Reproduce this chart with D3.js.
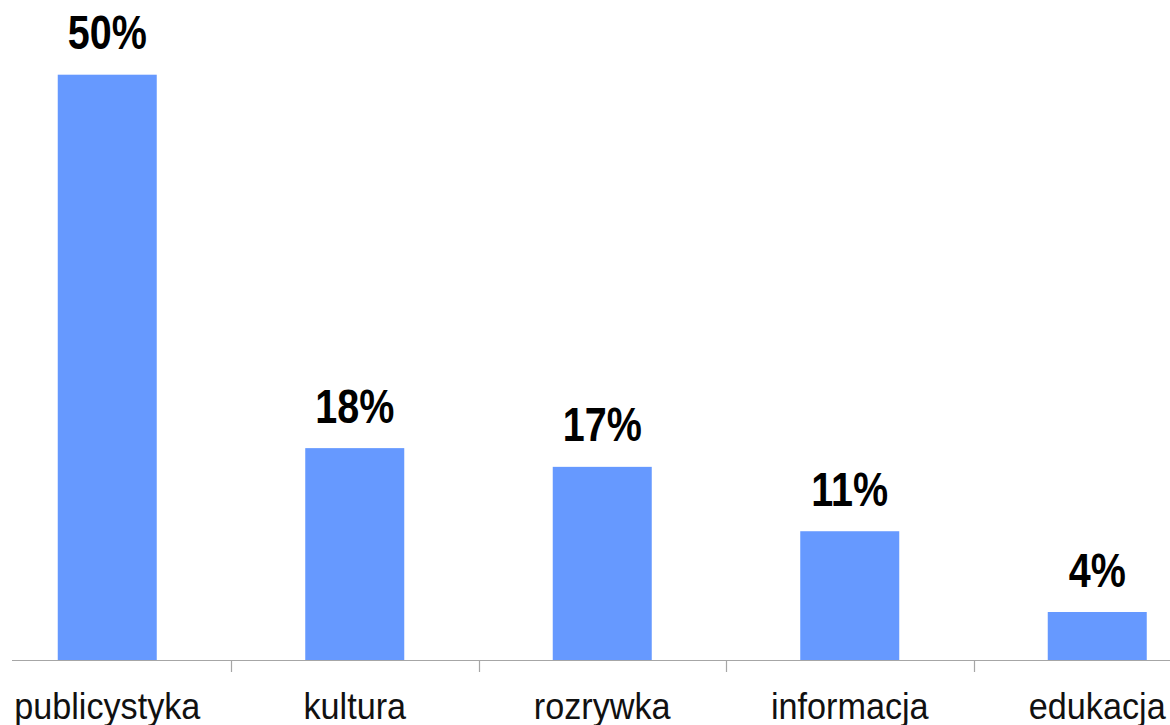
<!DOCTYPE html>
<html>
<head>
<meta charset="utf-8">
<script src="https://cdn.jsdelivr.net/npm/d3@7/dist/d3.min.js"></script>
<style>
html, body { margin: 0; padding: 0; background: #fff; overflow: hidden; }
svg { display: block; }
</style>
</head>
<body>
<svg id="chart" width="1170" height="725"></svg>
<script>
const categories = ["publicystyka", "kultura", "rozrywka", "informacja", "edukacja"];
const values = [50, 18.1, 16.5, 11.0, 4.1];
const valueLabels = ["50%", "18%", "17%", "11%", "4%"];

const svg = d3.select("#chart");
const baseY = 660;

const x = d3.scaleBand()
  .domain(categories)
  .range([-16.5, 1221])
  .paddingInner(0.6)
  .paddingOuter(0.3);

const y = d3.scaleLinear().domain([0, 50]).range([baseY, 74.7]);

const step = x.step();

// bars
svg.selectAll("rect.bar")
  .data(categories)
  .join("rect")
  .attr("class", "bar")
  .attr("x", d => x(d))
  .attr("y", (d, i) => y(values[i]))
  .attr("width", x.bandwidth())
  .attr("height", (d, i) => baseY - y(values[i]))
  .attr("fill", "#6699FF");

// axis line
svg.append("line")
  .attr("x1", 12).attr("x2", 1170)
  .attr("y1", baseY + 0.5).attr("y2", baseY + 0.5)
  .attr("stroke", "#a6a6a6").attr("stroke-width", 1.2);

// tick marks between categories
svg.selectAll("line.tick")
  .data(categories.slice(1))
  .join("line")
  .attr("class", "tick")
  .attr("x1", d => Math.round(x(d) - x.bandwidth() * 0.75) + 0.5)
  .attr("x2", d => Math.round(x(d) - x.bandwidth() * 0.75) + 0.5)
  .attr("y1", baseY).attr("y2", baseY + 12)
  .attr("stroke", "#a6a6a6").attr("stroke-width", 1.2);

// value labels
svg.selectAll("text.val")
  .data(categories)
  .join("text")
  .attr("class", "val")
  .attr("transform", (d, i) => `translate(${x(d) + x.bandwidth() / 2},${y(values[i]) - 25.5}) scale(1,1.22)`)
  .attr("text-anchor", "middle")
  .attr("font-family", "Arial, 'Liberation Sans', sans-serif")
  .attr("font-weight", "bold")
  .attr("font-size", 39.5)
  .attr("fill", "#000")
  .text((d, i) => valueLabels[i]);

// category labels
svg.selectAll("text.cat")
  .data(categories)
  .join("text")
  .attr("class", "cat")
  .attr("transform", d => `translate(${x(d) + x.bandwidth() / 2},718.5) scale(1,1.07)`)
  .attr("text-anchor", "middle")
  .attr("font-family", "Arial, 'Liberation Sans', sans-serif")
  .attr("font-size", 34.2)
  .attr("fill", "#111")
  .text(d => d);
</script>
</body>
</html>
